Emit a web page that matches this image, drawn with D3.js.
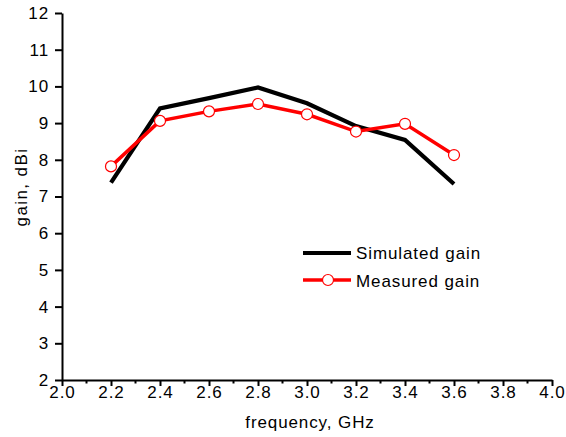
<!DOCTYPE html>
<html>
<head>
    <meta charset="utf-8">
    <title>Gain vs frequency</title>
    <script src="https://d3js.org/d3.v7.min.js"></script>
    <style>
        body { margin: 0; background: #fff; }
        svg text { font-family: "Liberation Sans", Arial, sans-serif; fill: #000; letter-spacing: 0.9px; }
    </style>
</head>
<body>
<div id="chart"></div>
<script>
    // data
    const freqs = [2.2, 2.4, 2.6, 2.8, 3.0, 3.2, 3.4, 3.6];
    const simulated = [7.38, 9.4, 9.68, 9.97, 9.54, 8.92, 8.54, 7.34];
    const measured = [7.82, 9.06, 9.32, 9.52, 9.24, 8.77, 8.98, 8.13];
    const xTicks = d3.range(2.0, 4.01, 0.2);
    const xMinor = d3.range(2.1, 4.0, 0.2);
    const yTicks = d3.range(2, 13, 1);

    const W = 566, H = 437;
    const margin = {top: 13, right: 14, bottom: 57, left: 62};
    const width = W - margin.left - margin.right,
        height = H - margin.top - margin.bottom;

    const svg = d3.select("#chart").append("svg")
        .attr("width", W).attr("height", H);
    const g = svg.append("g")
        .attr("transform", `translate(${margin.left},${margin.top})`);

    const x = d3.scaleLinear().domain([2.0, 4.0]).range([0, width]);
    const y = d3.scaleLinear().domain([2, 12]).range([height, 0]);

    // x axis
    const xAxis = g.append("g")
        .attr("transform", `translate(0,${height})`)
        .call(d3.axisBottom(x).tickValues(xTicks).tickFormat(d3.format(".1f"))
            .tickSize(6).tickSizeOuter(0).tickPadding(0));
    xAxis.selectAll("text").style("font-size", "17px");
    xAxis.selectAll("line").attr("stroke-width", 2);
    xAxis.select(".domain").attr("stroke-width", 2);
    xAxis.append("g").selectAll("line")
        .data(xMinor)
        .join("line")
        .attr("x1", d => x(d)).attr("x2", d => x(d))
        .attr("y1", 0).attr("y2", 3.5)
        .attr("stroke", "#000").attr("stroke-width", 2);

    // y axis
    const yAxis = g.append("g")
        .call(d3.axisLeft(y).tickValues(yTicks).tickFormat(d3.format("d"))
            .tickSize(7).tickSizeOuter(0).tickPadding(6));
    yAxis.selectAll("text").style("font-size", "17px");
    yAxis.selectAll("line").attr("stroke-width", 2);
    yAxis.select(".domain").attr("stroke-width", 2);

    // axis titles
    svg.append("text")
        .attr("x", 310).attr("y", 428)
        .attr("text-anchor", "middle").style("font-size", "17px")
        .text("frequency, GHz");
    svg.append("text")
        .attr("transform", "translate(27,187) rotate(-90)")
        .attr("text-anchor", "middle").style("font-size", "17px")
        .style("letter-spacing", "1.4px")
        .text("gain, dBi");

    const line = d3.line().x(d => x(d[0])).y(d => y(d[1]));

    // simulated
    g.append("path")
        .datum(freqs.map((f, i) => [f, simulated[i]]))
        .attr("d", line).attr("fill", "none")
        .attr("stroke", "#000").attr("stroke-width", 4.2)
        .attr("stroke-linejoin", "miter");

    // measured
    const meas = freqs.map((f, i) => [f, measured[i]]);
    g.append("path")
        .datum(meas)
        .attr("d", line).attr("fill", "none")
        .attr("stroke", "#ff0000").attr("stroke-width", 3.5);
    g.selectAll(".pt")
        .data(meas)
        .join("circle")
        .attr("class", "pt")
        .attr("cx", d => x(d[0])).attr("cy", d => y(d[1]))
        .attr("r", 5.5)
        .attr("fill", "#fff").attr("stroke", "#ff0000").attr("stroke-width", 1.2);

    // legend
    const leg = svg.append("g");
    leg.append("line")
        .attr("x1", 303).attr("x2", 351).attr("y1", 253).attr("y2", 253)
        .attr("stroke", "#000").attr("stroke-width", 4.2);
    leg.append("text").attr("x", 356).attr("y", 258.5)
        .style("font-size", "17px").text("Simulated gain");
    leg.append("line")
        .attr("x1", 303).attr("x2", 351).attr("y1", 280).attr("y2", 280)
        .attr("stroke", "#ff0000").attr("stroke-width", 3.5);
    leg.append("circle")
        .attr("cx", 328).attr("cy", 280).attr("r", 5.5)
        .attr("fill", "#fff").attr("stroke", "#ff0000").attr("stroke-width", 1.2);
    leg.append("text").attr("x", 356).attr("y", 286.5)
        .style("font-size", "17px").text("Measured gain");
</script>
</body>
</html>
